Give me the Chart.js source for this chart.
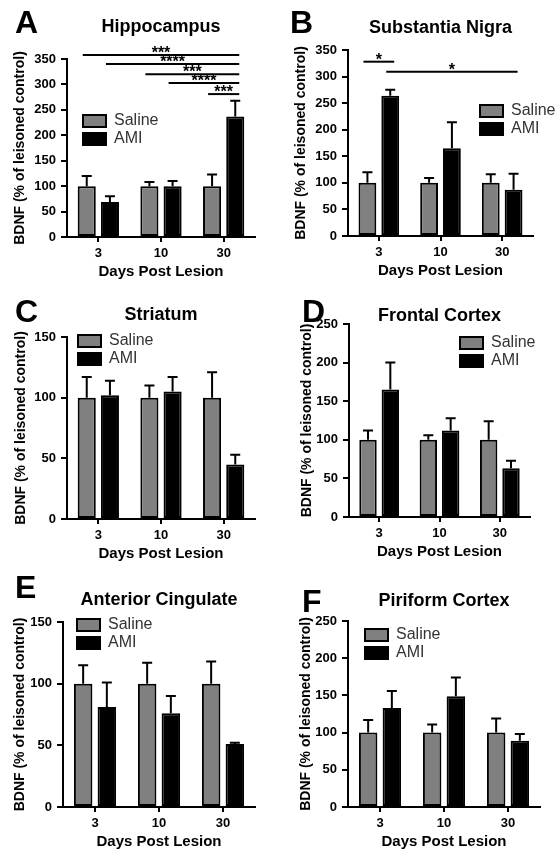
<!DOCTYPE html>
<html lang="en">
<head>
<meta charset="UTF-8">
<title>BDNF after lesion</title>
<script src="https://cdn.jsdelivr.net/npm/chart.js"></script>
<style>
  html, body { margin: 0; padding: 0; background: #fff; }
  body { width: 560px; height: 858px; position: relative; overflow: hidden; }
  .panel { position: absolute; }
</style>
</head>
<body>
<div class="panel"><canvas id="chartA"></canvas></div>
<div class="panel"><canvas id="chartB"></canvas></div>
<div class="panel"><canvas id="chartC"></canvas></div>
<div class="panel"><canvas id="chartD"></canvas></div>
<div class="panel"><canvas id="chartE"></canvas></div>
<div class="panel"><canvas id="chartF"></canvas></div>
<script>
// days after lesion
const days = ['3', '10', '30'];

// BDNF, % of lesioned control (mean and SEM)
const hippoSaline = [100, 100, 100];
const hippoSalineSem = [20, 8, 23];
const hippoAmi = [69, 100, 237];
const hippoAmiSem = [11, 10, 31];

const nigraSaline = [100, 100, 100];
const nigraSalineSem = [20, 9, 16];
const nigraAmi = [264, 165, 87];
const nigraAmiSem = [11, 49, 30];

const striatumSaline = [100, 100, 100];
const striatumSalineSem = [17, 10, 21];
const striatumAmi = [102, 105, 45];
const striatumAmiSem = [12, 12, 8];

const frontalSaline = [100, 100, 100];
const frontalSalineSem = [12, 6, 24];
const frontalAmi = [165, 112, 63];
const frontalAmiSem = [35, 16, 10];

const cingulateSaline = [100, 100, 100];
const cingulateSalineSem = [15, 17, 18];
const cingulateAmi = [81, 76, 51];
const cingulateAmiSem = [20, 14, 1];

const piriformSaline = [100, 100, 100];
const piriformSalineSem = [17, 11, 19];
const piriformAmi = [133, 149, 89];
const piriformAmiSem = [23, 25, 9];

// significance brackets: [dataset, category] -> [dataset, category] at a y value
const hippoSig = [
  { from: [0, 0], to: [1, 2], y: 358, stars: '***' },
  { from: [1, 0], to: [1, 2], y: 340, stars: '****' },
  { from: [0, 1], to: [1, 2], y: 320, stars: '***' },
  { from: [1, 1], to: [1, 2], y: 303, stars: '****' },
  { from: [0, 2], to: [1, 2], y: 281, stars: '***' }
];
const nigraSig = [
  { from: [0, 0], to: [1, 0], y: 328, stars: '*' },
  { from: [1, 0], to: [1, 2], y: 309, stars: '*' }
];

Chart.defaults.font.family = '"Liberation Sans", Arial, sans-serif';
Chart.defaults.color = '#000';

const FONT = '"Liberation Sans", Arial, sans-serif';
const X_SCALE_H = 44;

// box = canvas [left, top, w, h], area = plot area in page px
const panels = [
  { id: 'chartA', letter: 'A', title: 'Hippocampus', saline: hippoSaline, salineSem: hippoSalineSem, ami: hippoAmi, amiSem: hippoAmiSem, yMax: 350, sig: hippoSig,
    box: [0, 0, 280, 288], area: [67, 59, 255, 237], yTitleX: 20, titleY: 32, letterAt: [15, 33], legendAt: [83, 115] },
  { id: 'chartB', letter: 'B', title: 'Substantia Nigra', saline: nigraSaline, salineSem: nigraSalineSem, ami: nigraAmi, amiSem: nigraAmiSem, yMax: 350, sig: nigraSig,
    box: [280, 0, 280, 288], area: [348, 50, 533, 236], yTitleX: 301, titleY: 33, letterAt: [290, 33], legendAt: [480, 105] },
  { id: 'chartC', letter: 'C', title: 'Striatum', saline: striatumSaline, salineSem: striatumSalineSem, ami: striatumAmi, amiSem: striatumAmiSem, yMax: 150, sig: [],
    box: [0, 288, 280, 280], area: [67, 337, 255, 519], yTitleX: 21, titleY: 320, letterAt: [15, 322], legendAt: [78, 335] },
  { id: 'chartD', letter: 'D', title: 'Frontal Cortex', saline: frontalSaline, salineSem: frontalSalineSem, ami: frontalAmi, amiSem: frontalAmiSem, yMax: 250, sig: [],
    box: [280, 288, 280, 280], area: [349, 324, 530, 517], yTitleX: 307, titleY: 321, letterAt: [302, 322], legendAt: [460, 337] },
  { id: 'chartE', letter: 'E', title: 'Anterior Cingulate', saline: cingulateSaline, salineSem: cingulateSalineSem, ami: cingulateAmi, amiSem: cingulateAmiSem, yMax: 150, sig: [],
    box: [0, 568, 280, 290], area: [63, 622, 255, 807], yTitleX: 20, titleY: 605, letterAt: [15, 598], legendAt: [77, 619] },
  { id: 'chartF', letter: 'F', title: 'Piriform Cortex', saline: piriformSaline, salineSem: piriformSalineSem, ami: piriformAmi, amiSem: piriformAmiSem, yMax: 250, sig: [],
    box: [280, 568, 280, 290], area: [348, 621, 540, 807], yTitleX: 306, titleY: 606, letterAt: [302, 612], legendAt: [365, 629] }
];

const LEGEND_PAD = 2;
const LEGEND_FONT = 16;

// upward-only SEM whiskers
const errorBars = {
  id: 'errorBars',
  afterDatasetsDraw(chart) {
    const ctx = chart.ctx, y = chart.scales.y;
    ctx.save();
    ctx.strokeStyle = '#000';
    ctx.lineWidth = 2;
    chart.data.datasets.forEach((ds, i) => {
      chart.getDatasetMeta(i).data.forEach((bar, j) => {
        const top = y.getPixelForValue(ds.data[j] + ds.sem[j]);
        ctx.beginPath();
        ctx.moveTo(bar.x, bar.y);
        ctx.lineTo(bar.x, top);
        ctx.moveTo(bar.x - 5, top);
        ctx.lineTo(bar.x + 5, top);
        ctx.stroke();
      });
    });
    ctx.restore();
  }
};

function panelDecor(p) {
  const ox = p.box[0], oy = p.box[1];
  return {
    id: 'panelDecor',
    afterLayout(chart) {
      // move the legend box to where it sits in the figure
      const lg = chart.legend;
      const w = lg.width, h = lg.height;
      lg.left = p.legendAt[0] - ox - LEGEND_PAD;
      lg.top = p.legendAt[1] - oy - LEGEND_PAD - (LEGEND_FONT - 12) / 2;
      lg.right = lg.left + w;
      lg.bottom = lg.top + h;
    },
    afterDatasetsDraw(chart) {
      const ctx = chart.ctx, y = chart.scales.y;
      const barX = ([d, i]) => chart.getDatasetMeta(d).data[i].x;
      ctx.save();
      ctx.strokeStyle = '#000';
      ctx.fillStyle = '#000';
      ctx.lineWidth = 2;
      ctx.font = 'bold 16px ' + FONT;
      ctx.textAlign = 'center';
      ctx.textBaseline = 'alphabetic';
      p.sig.forEach(s => {
        const x1 = barX(s.from) - 4, x2 = barX(s.to) + 4;
        const py = y.getPixelForValue(s.y);
        ctx.beginPath();
        ctx.moveTo(x1, py);
        ctx.lineTo(x2, py);
        ctx.stroke();
        ctx.fillText(s.stars, (x1 + x2) / 2, py + 3);
      });
      ctx.restore();
    },
    afterDraw(chart) {
      const ctx = chart.ctx, a = chart.chartArea;
      ctx.save();
      ctx.fillStyle = '#000';
      ctx.textBaseline = 'alphabetic';
      ctx.font = 'bold 18px ' + FONT;
      ctx.textAlign = 'center';
      ctx.fillText(p.title, (a.left + a.right) / 2, p.titleY - oy);
      ctx.font = 'bold 32px ' + FONT;
      ctx.textAlign = 'left';
      ctx.fillText(p.letter, p.letterAt[0] - ox, p.letterAt[1] - oy);
      ctx.restore();
    }
  };
}

function buildPanel(p) {
  const [ox, oy, w, h] = p.box;
  const [caL, caT, caR, caB] = p.area;
  const cv = document.getElementById(p.id);
  cv.parentNode.style.left = ox + 'px';
  cv.parentNode.style.top = oy + 'px';
  cv.width = w;
  cv.height = h;
  cv.style.width = w + 'px';
  cv.style.height = h + 'px';

  new Chart(cv, {
    type: 'bar',
    data: {
      labels: days,
      datasets: [
        { label: 'Saline', data: p.saline, sem: p.salineSem, backgroundColor: '#808080', borderColor: '#000', borderWidth: 2, borderSkipped: false },
        { label: 'AMI', data: p.ami, sem: p.amiSem, backgroundColor: '#000', borderColor: '#000', borderWidth: 2, borderSkipped: false }
      ]
    },
    options: {
      responsive: false,
      animation: false,
      events: [],
      layout: { padding: { left: 0, top: caT - oy, right: ox + w - caR, bottom: oy + h - caB - X_SCALE_H } },
      datasets: { bar: { categoryPercentage: 0.74, barPercentage: 0.78 } },
      scales: {
        x: {
          grid: { offset: false, drawOnChartArea: false, drawTicks: true, tickLength: 5, color: '#000', lineWidth: 2 },
          border: { color: '#000', width: 2 },
          ticks: { color: '#000', padding: 4, font: { size: 13, weight: 'bold' } },
          title: { display: true, text: 'Days Post Lesion', color: '#000', padding: { top: 0, bottom: 0 }, font: { size: 15, weight: 'bold' } },
          afterFit(scale) { scale.height = X_SCALE_H; }
        },
        y: {
          min: 0,
          max: p.yMax,
          grid: { drawOnChartArea: false, drawTicks: true, tickLength: 6, color: '#000', lineWidth: 2 },
          border: { color: '#000', width: 2 },
          ticks: { stepSize: 50, color: '#000', padding: 5, font: { size: 13, weight: 'bold' } },
          title: { display: true, text: 'BDNF (% of leisoned control)', color: '#000', padding: { top: p.yTitleX - ox - 8.4, bottom: 0 }, font: { size: 14, weight: 'bold' } },
          afterFit(scale) { scale.width = caL - ox; }
        }
      },
      plugins: {
        legend: {
          position: 'chartArea',
          align: 'start',
          labels: { boxWidth: 23, boxHeight: 12, padding: LEGEND_PAD, color: '#333', font: { size: LEGEND_FONT } }
        },
        tooltip: { enabled: false }
      }
    },
    plugins: [errorBars, panelDecor(p)]
  });
}

panels.forEach(buildPanel);
</script>
</body>
</html>
